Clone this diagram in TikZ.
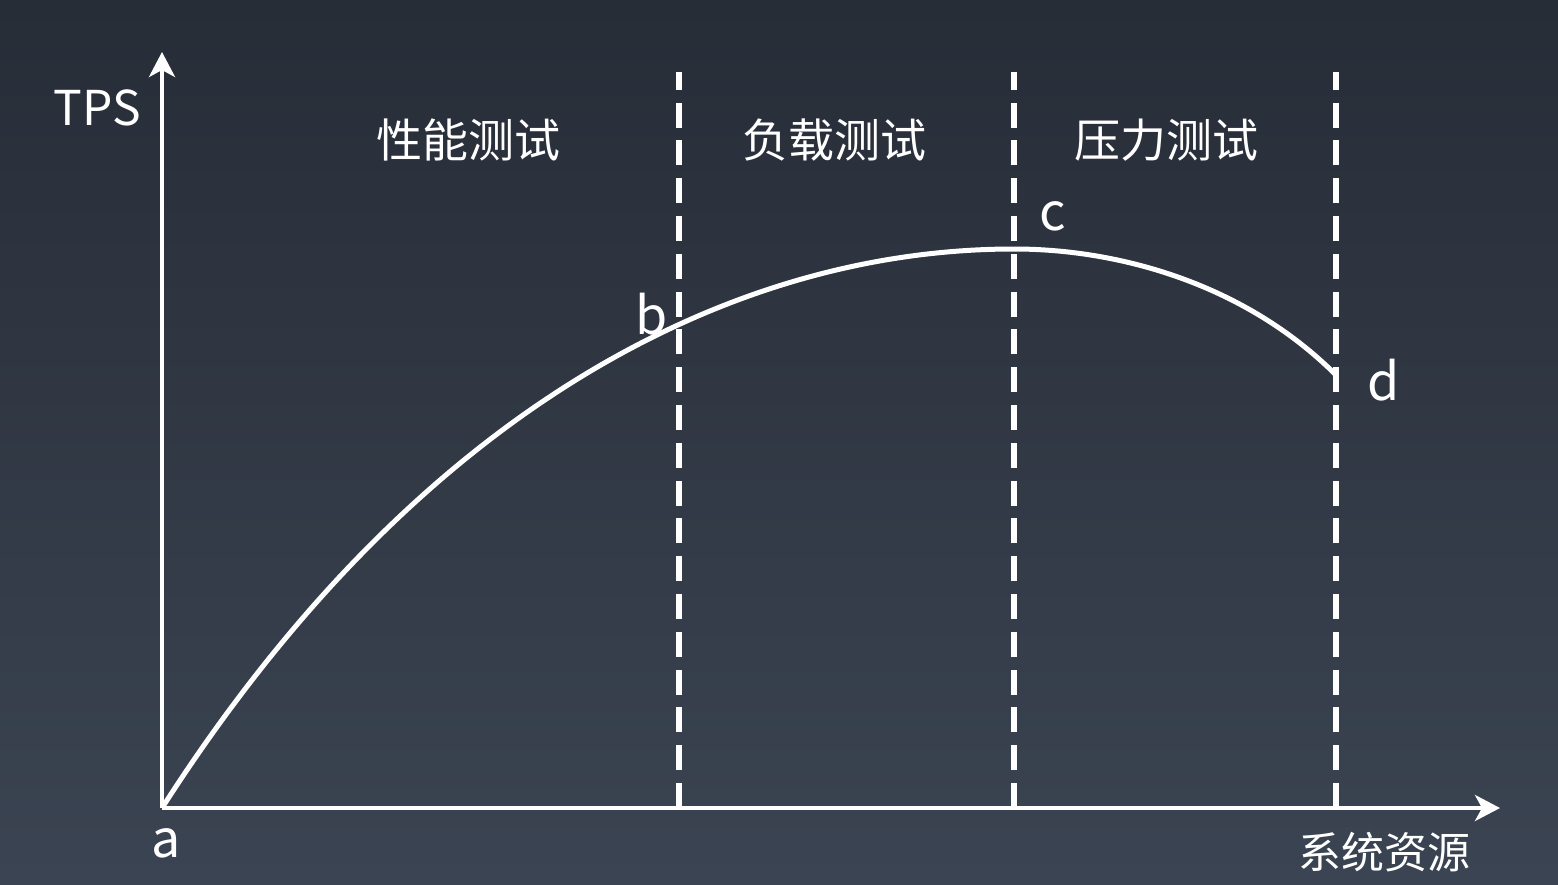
\documentclass[tikz,border=0pt]{standalone}
\usepackage{fontspec}
\setmainfont{Noto Sans CJK SC}
\usepackage{xcolor}
\usepackage{tikz}
\usetikzlibrary{arrows.meta, calc}
\definecolor{BackgroundTop}{HTML}{272D37}
\definecolor{BackgroundBottom}{HTML}{3B4452}
\definecolor{Foreground}{HTML}{FFFFFF}
\tikzset{
    axis/.style = {draw = Foreground, line width = 2pt, -{Stealth[length = 12.5pt, width = 13pt, inset = 3.5pt]}},
    boundary/.style = {draw = Foreground, line width = 3.2pt, dash pattern = on 12.5pt off 6.4pt},
    tpscurve/.style = {draw = Foreground, line width = 2.5pt},
    label/.style = {text = Foreground, font = \fontsize{26pt}{30pt}\selectfont, inner sep = 0pt},
    zone/.style = {text = Foreground, font = \fontsize{23pt}{28pt}\selectfont, inner sep = 0pt}
}

\begin{document}
\begin{tikzpicture}[x = 0.5pt, y = -0.5pt, line join = round]

    \path[top color = BackgroundTop, bottom color = BackgroundBottom] (0, 0) rectangle (1558, 884);
    \useasboundingbox (0, 0) rectangle (1558, 884);

    % axes
    \coordinate (a)    at (162, 808);
    \coordinate (ytip) at (162, 52);
    \coordinate (xtip) at (1500, 808);
    \path[axis] (a) -- (ytip);
    \path[axis] (a) -- (xtip);

    % curve points
    \coordinate (b) at (679, 335);
    \coordinate (c) at (1014, 249);
    \coordinate (d) at (1336, 375);

    % boundaries between zones
    \foreach \p in {b, c, d}
        \path[boundary] (a -| \p) -- ($(ytip -| \p) + (0, 20)$);

    \path[tpscurve] (a) .. controls (420, 405) and (735, 249) .. (c)
                        .. controls (1121, 249) and (1246, 285) .. (d);

    \node[label, font = \fontsize{24pt}{30pt}\selectfont] (tps) at (97, 108) {TPS};
    \node[label] (alab)  at (166, 843) {a};
    \node[label] (blab)  at (652, 314) {b};
    \node[label] (clab)  at (1053, 216) {c};
    \node[label] (dlab)  at (1384, 380) {d};

    \node[zone] (perf)   at (468, 140)  {性能测试};
    \node[zone] (load)   at (834, 140)  {负载测试};
    \node[zone] (stress) at (1166, 140) {压力测试};
    \node[zone, font = \fontsize{21.5pt}{26pt}\selectfont] (res) at (1384, 852) {系统资源};
\end{tikzpicture}
\end{document}
